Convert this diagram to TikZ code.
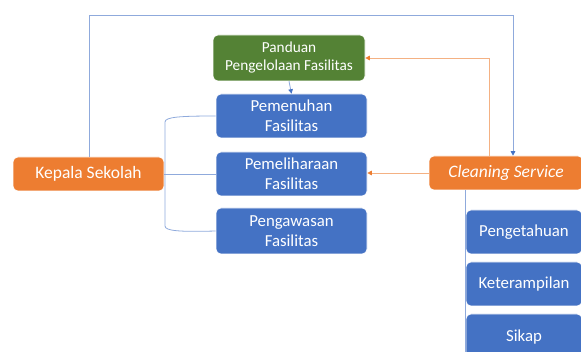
\documentclass[tikz,border=0pt]{standalone}
\usepackage{fontspec}
\setmainfont{Carlito}
\usetikzlibrary{arrows.meta}
\definecolor{obox}{HTML}{ED7D31}
\definecolor{bbox}{HTML}{4472C4}
\definecolor{gbox}{HTML}{548235}
\definecolor{bline}{HTML}{8FAADC}
\definecolor{oline}{HTML}{F4B183}
\tikzset{
  box/.style={rounded corners=5pt, draw=white, line width=0.6pt, text=white, align=center, inner sep=0pt},
  bluebox/.style={box, fill=bbox, font=\fontsize{16.8}{20}\selectfont},
  orangebox/.style={box, fill=obox, font=\fontsize{17.5}{20}\selectfont},
  greenbox/.style={box, fill=gbox, font=\fontsize{15.3}{18}\selectfont},
  bl/.style={draw=bline, line width=0.8pt},
  ol/.style={draw=oline, line width=0.8pt},
  btip/.style={-{Triangle[length=4.5pt,width=4.5pt,color=bbox]}},
  otip/.style={-{Triangle[length=4.5pt,width=4.5pt,color=obox]}}
}
\begin{document}
\begin{tikzpicture}[x=1pt,y=-1pt]
\useasboundingbox (0,0) rectangle (581,352);
\clip (0,0) rectangle (581,352);
% nodes
\node[greenbox, minimum width=152pt, minimum height=46pt] (pan) at (289,58) {Panduan\\Pengelolaan Fasilitas};
\node[bluebox, minimum width=151pt, minimum height=44pt] (pem) at (291.5,116) {Pemenuhan\\Fasilitas};
\node[bluebox, minimum width=151pt, minimum height=44pt] (pel) at (291.5,174) {Pemeliharaan\\Fasilitas};
\node[bluebox, minimum width=151pt, minimum height=46pt] (pen) at (291.5,231) {Pengawasan\\Fasilitas};
\node[orangebox, minimum width=151pt, minimum height=34pt] (kep) at (88.5,174) {Kepala Sekolah};
\node[orangebox, minimum width=154pt, minimum height=34pt] (cle) at (506,173) {\itshape Cleaning Service};
\node[bluebox, minimum width=116pt, minimum height=44pt] (pg) at (524,232) {Pengetahuan};
\node[bluebox, minimum width=116pt, minimum height=44pt] (kt) at (524,284) {Keterampilan};
\node[bluebox, minimum width=116pt, minimum height=46pt] (sk) at (524,337) {Sikap};
% coordinates
\coordinate (top1) at (89,15);
\coordinate (top2) at (513,15);
\coordinate (o1) at (489,58);
\coordinate (rb) at (465,352);
% connectors
\draw[bl] (kep.north -| top1) -- (top1) -- (top2);
\draw[bl,btip] (top2) -- (top2 |- cle.north);
\draw[ol] (cle.north -| o1) -- (o1);
\draw[ol,otip] (o1) -- (o1 -| pan.east);
\draw[bl,btip] (pan.south) -- (pem.north);
\draw[ol,otip] (cle.west) -- (cle.west -| pel.east);
\draw[bl] (kep.east) -- (pel.west);
\draw[bl] (pem.west) .. controls (180,116) and (165,117) .. (165,122) -- (165,226) .. controls (165,231) and (180,232) .. (pen.west);
\draw[bl] (cle.south -| rb) -- (rb);
\end{tikzpicture}
\end{document}
